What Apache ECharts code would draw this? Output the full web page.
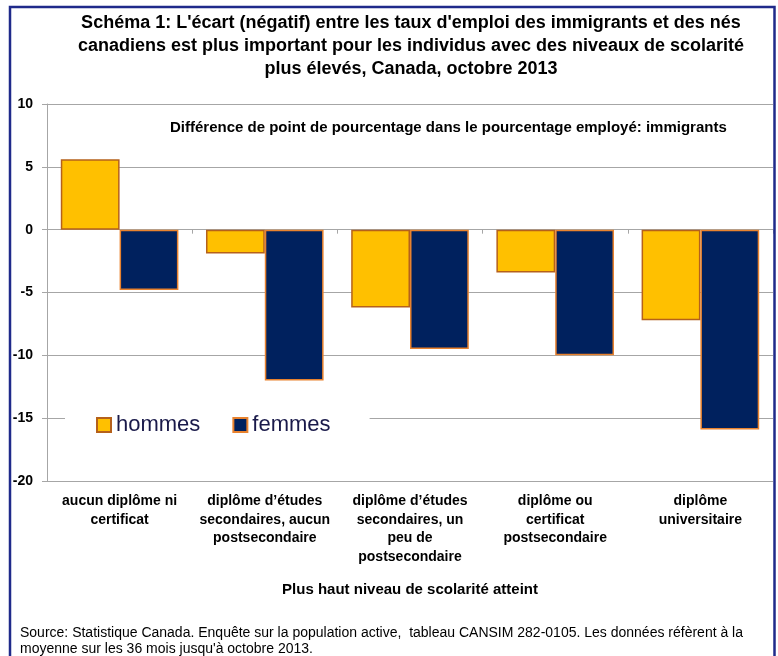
<!DOCTYPE html>
<html>
<head>
<meta charset="utf-8">
<script src="https://cdn.jsdelivr.net/npm/echarts@6/dist/echarts.min.js"></script>
<style>
html, body { margin: 0; padding: 0; background: #fff; }
#main { width: 778px; height: 656px; }
</style>
</head>
<body>
<div id="main"></div>
<script>
var categories = [
    'aucun diplôme ni\ncertificat',
    'diplôme d’études\nsecondaires, aucun\npostsecondaire',
    'diplôme d’études\nsecondaires, un\npeu de\npostsecondaire',
    'diplôme ou\ncertificat\npostsecondaire',
    'diplôme\nuniversitaire'
];
var hommes = [5.6, -1.9, -6.2, -3.4, -7.2];
var femmes = [-4.8, -12.0, -9.5, -10.0, -15.9];

var font = 'Liberation Sans, Arial, sans-serif';
var myChart = echarts.init(document.getElementById('main'));
var option = {
    backgroundColor: '#fff',
    animation: false,
    title: {
        text: "Schéma 1: L'écart (négatif) entre les taux d'emploi des immigrants et des nés\ncanadiens est plus important pour les individus avec des niveaux de scolarité\nplus élevés, Canada, octobre 2013",
        left: 411,
        top: 12,
        textAlign: 'center',
        padding: 0,
        textStyle: {
            color: '#000',
            fontFamily: font,
            fontWeight: 'bold',
            fontSize: 18,
            lineHeight: 23
        }
    },
    graphic: [
        {
            type: 'polyline',
            shape: { points: [[10, 656], [10, 7], [774.5, 7], [774.5, 656]] },
            style: { stroke: '#1f2a8a', lineWidth: 2.5, fill: null },
            z: 10
        },
        {
            type: 'text',
            left: 170,
            top: 120,
            style: {
                text: 'Différence de point de pourcentage dans le pourcentage employé: immigrants',
                font: 'bold 15px ' + font,
                fill: '#000'
            }
        },
        {
            type: 'text',
            left: 20,
            top: 625,
            style: {
                text: 'Source: Statistique Canada. Enquête sur la population active,  tableau CANSIM 282-0105. Les données réfèrent à la\nmoyenne sur les 36 mois jusqu\'à octobre 2013.',
                font: '14px ' + font,
                lineHeight: 16,
                fill: '#000'
            }
        }
    ],
    legend: {
        left: 65,
        top: 409,
        padding: [5, 39, 5, 31],
        backgroundColor: '#fff',
        icon: 'rect',
        itemWidth: 14,
        itemHeight: 14,
        itemGap: 32,
        textStyle: {
            color: '#1a1a4a',
            fontFamily: font,
            fontSize: 22
        },
        data: ['hommes', 'femmes']
    },
    grid: {
        left: 47,
        right: 5,
        top: 104,
        bottom: 175
    },
    xAxis: [
        {
            type: 'category',
            data: categories,
            axisLine: { show: false, onZero: false },
            axisTick: { show: false },
            axisLabel: {
                interval: 0,
                margin: 11,
                color: '#000',
                fontFamily: font,
                fontWeight: 'bold',
                fontSize: 14,
                lineHeight: 18.5
            },
            name: 'Plus haut niveau de scolarité atteint',
            nameLocation: 'middle',
            nameGap: 101,
            nameTextStyle: {
                color: '#000',
                fontFamily: font,
                fontWeight: 'bold',
                fontSize: 15
            }
        },
        {
            type: 'category',
            data: categories,
            position: 'bottom',
            axisLine: { show: true, onZero: true, lineStyle: { color: '#a6a6a6', width: 1 } },
            axisTick: { show: true, length: 4, lineStyle: { color: '#a6a6a6' } },
            axisLabel: { show: false }
        }
    ],
    yAxis: {
        type: 'value',
        min: -20,
        max: 10,
        interval: 5,
        axisLine: { show: true, lineStyle: { color: '#a6a6a6' } },
        axisTick: { show: true, length: 5, lineStyle: { color: '#a6a6a6' } },
        axisLabel: {
            margin: 14,
            color: '#000',
            fontFamily: font,
            fontWeight: 'bold',
            fontSize: 14
        },
        splitLine: { lineStyle: { color: '#a6a6a6', width: 1 } }
    },
    series: [
        {
            name: 'hommes',
            type: 'bar',
            data: hommes,
            barGap: '0%',
            barCategoryGap: '19%',
            itemStyle: { color: '#ffc000', borderColor: '#b5611b', borderWidth: 1.5 }
        },
        {
            name: 'femmes',
            type: 'bar',
            data: femmes,
            itemStyle: { color: '#00215e', borderColor: '#e8822e', borderWidth: 1.5 }
        }
    ]
};
myChart.setOption(option);
</script>
</body>
</html>
